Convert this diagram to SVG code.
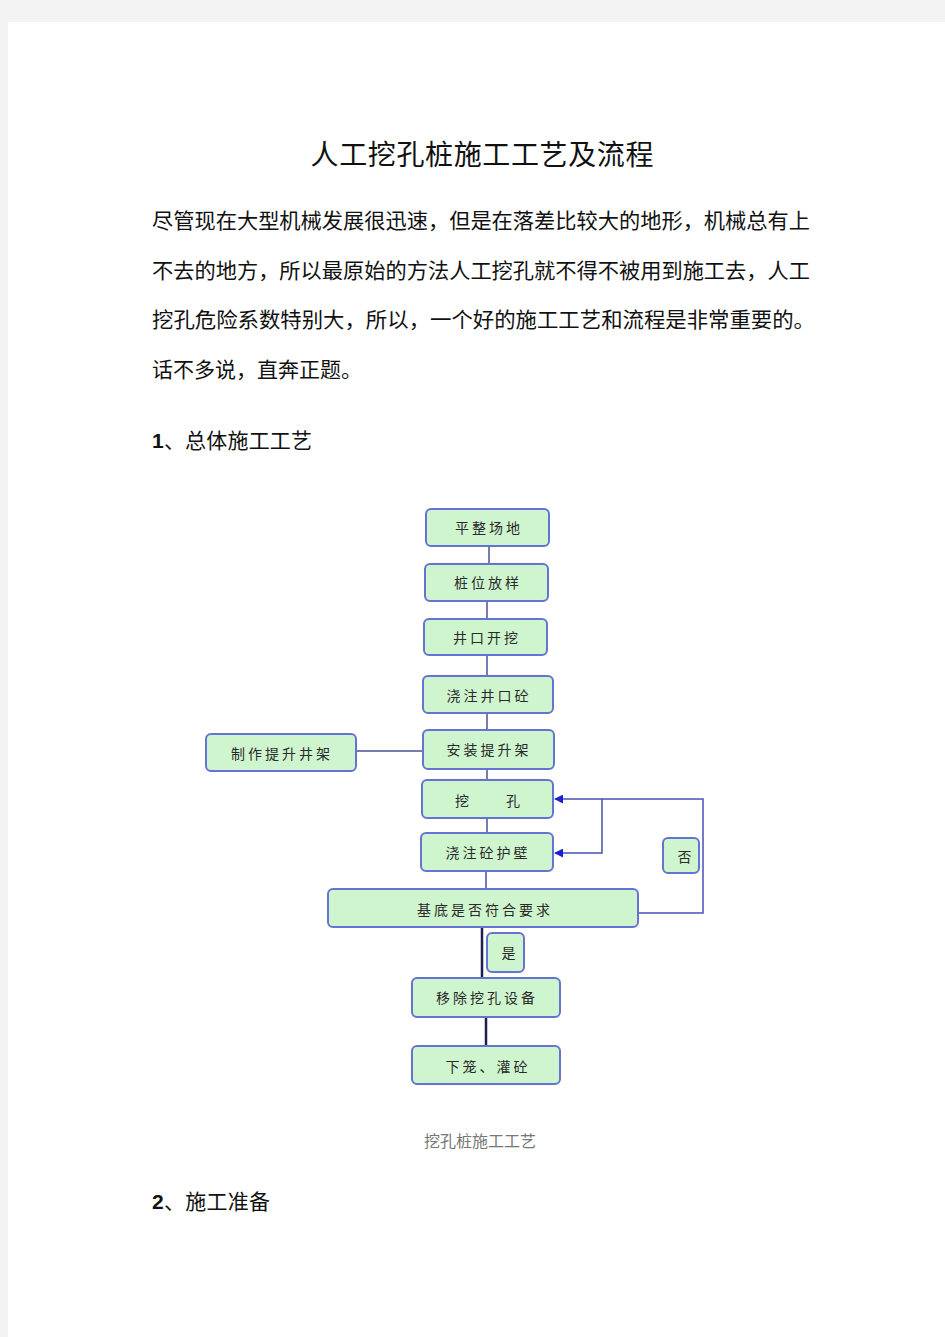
<svg xmlns="http://www.w3.org/2000/svg" width="945" height="1337" viewBox="0 0 945 1337">
<defs>
<style>
.box{fill:#cff5cf;stroke:#6573d2;stroke-width:2}
.bt{font-family:"Noto Sans CJK SC","Noto Sans",sans-serif;font-size:14px;fill:#2a2a2a;text-anchor:middle;letter-spacing:3px}
.ln{fill:none;stroke:#4a4f96;stroke-width:1.5}
.dk{fill:none;stroke:#1e1e50;stroke-width:2.5}
.fb{fill:none;stroke:#4a52b0;stroke-width:1.5}
.body{font-family:"Noto Sans CJK SC",sans-serif;font-size:21px;fill:#111}
</style>
<marker id="ah" viewBox="0 0 10 10" refX="9" refY="5" markerWidth="6" markerHeight="6" orient="auto" markerUnits="strokeWidth">
<path d="M0,0 L10,5 L0,10 z" fill="#1a22d0"/>
</marker>
</defs>
<rect x="0" y="0" width="945" height="1337" fill="#f3f3f3"/>
<rect x="8" y="22" width="937" height="1315" fill="#ffffff"/>

<text x="482" y="165" font-family="Noto Sans CJK SC,sans-serif" font-size="28" fill="#111" text-anchor="middle" textLength="343">人工挖孔桩施工工艺及流程</text>

<text class="body" x="152" y="228" textLength="658" lengthAdjust="spacingAndGlyphs">尽管现在大型机械发展很迅速，但是在落差比较大的地形，机械总有上</text>
<text class="body" x="152" y="278" textLength="658" lengthAdjust="spacingAndGlyphs">不去的地方，所以最原始的方法人工挖孔就不得不被用到施工去，人工</text>
<text class="body" x="152" y="327" textLength="663" lengthAdjust="spacingAndGlyphs">挖孔危险系数特别大，所以，一个好的施工工艺和流程是非常重要的。</text>
<text class="body" x="152" y="377">话不多说，直奔正题。</text>

<text x="152" y="448" font-family="Noto Sans CJK SC,sans-serif" font-size="21" fill="#111" textLength="160"><tspan font-family="Liberation Sans,sans-serif" font-weight="bold">1</tspan>、总体施工工艺</text>

<g id="connectors">
<path class="ln" d="M489,546 V563"/>
<path class="ln" d="M487,601 V618"/>
<path class="ln" d="M487,654 V676"/>
<path class="ln" d="M487,713 V730"/>
<path class="ln" d="M356,751 H423"/>
<path class="ln" d="M487,769 V780"/>
<path class="ln" d="M487,818 V833"/>
<path class="ln" d="M486,871 V889"/>
<path class="dk" d="M482,927 V978"/>
<path class="dk" d="M486,1017 V1046"/>
<path class="fb" d="M638,913 H703 V799 H555" marker-end="url(#ah)"/>
<path class="fb" d="M602,799 V853 H555" marker-end="url(#ah)"/>
</g>

<g id="n1"><rect class="box" x="426" y="509" width="123" height="37" rx="5"/><text class="bt" x="489" y="533">平整场地</text></g>
<g id="n2"><rect class="box" x="425" y="564" width="123" height="37" rx="5"/><text class="bt" x="488" y="588">桩位放样</text></g>
<g id="n3"><rect class="box" x="424" y="619" width="123" height="36" rx="5"/><text class="bt" x="487" y="643">井口开挖</text></g>
<g id="n4"><rect class="box" x="423" y="676" width="130" height="37" rx="5"/><text class="bt" x="489" y="701">浇注井口砼</text></g>
<g id="n5"><rect class="box" x="423" y="730" width="131" height="39" rx="5"/><text class="bt" x="489" y="755">安装提升架</text></g>
<g id="n6"><rect class="box" x="206" y="734" width="150" height="37" rx="5"/><text class="bt" x="282" y="759">制作提升井架</text></g>
<g id="n7"><rect class="box" x="422" y="780" width="131" height="38" rx="5"/><text class="bt" x="489" y="806">挖　　孔</text></g>
<g id="n8"><rect class="box" x="421" y="833" width="132" height="38" rx="5"/><text class="bt" x="488" y="858">浇注砼护壁</text></g>
<g id="n9"><rect class="box" x="328" y="889" width="310" height="38" rx="5"/><text class="bt" x="485" y="915">基底是否符合要求</text></g>
<g id="n10"><rect class="box" x="663" y="838" width="36" height="35" rx="5"/><text class="bt" x="686" y="862">否</text></g>
<g id="n11"><rect class="box" x="487" y="933" width="37" height="39" rx="5"/><text class="bt" x="510" y="958">是</text></g>
<g id="n12"><rect class="box" x="412" y="978" width="148" height="39" rx="5"/><text class="bt" x="487" y="1003">移除挖孔设备</text></g>
<g id="n13"><rect class="box" x="412" y="1046" width="148" height="38" rx="5"/><text class="bt" x="488" y="1072">下笼、灌砼</text></g>

<text x="480" y="1147" font-family="Noto Sans CJK SC,sans-serif" font-size="16" fill="#777" text-anchor="middle">挖孔桩施工工艺</text>

<text x="152" y="1209" font-family="Noto Sans CJK SC,sans-serif" font-size="21" fill="#111" textLength="118"><tspan font-family="Liberation Sans,sans-serif" font-weight="bold">2</tspan>、施工准备</text>
</svg>
